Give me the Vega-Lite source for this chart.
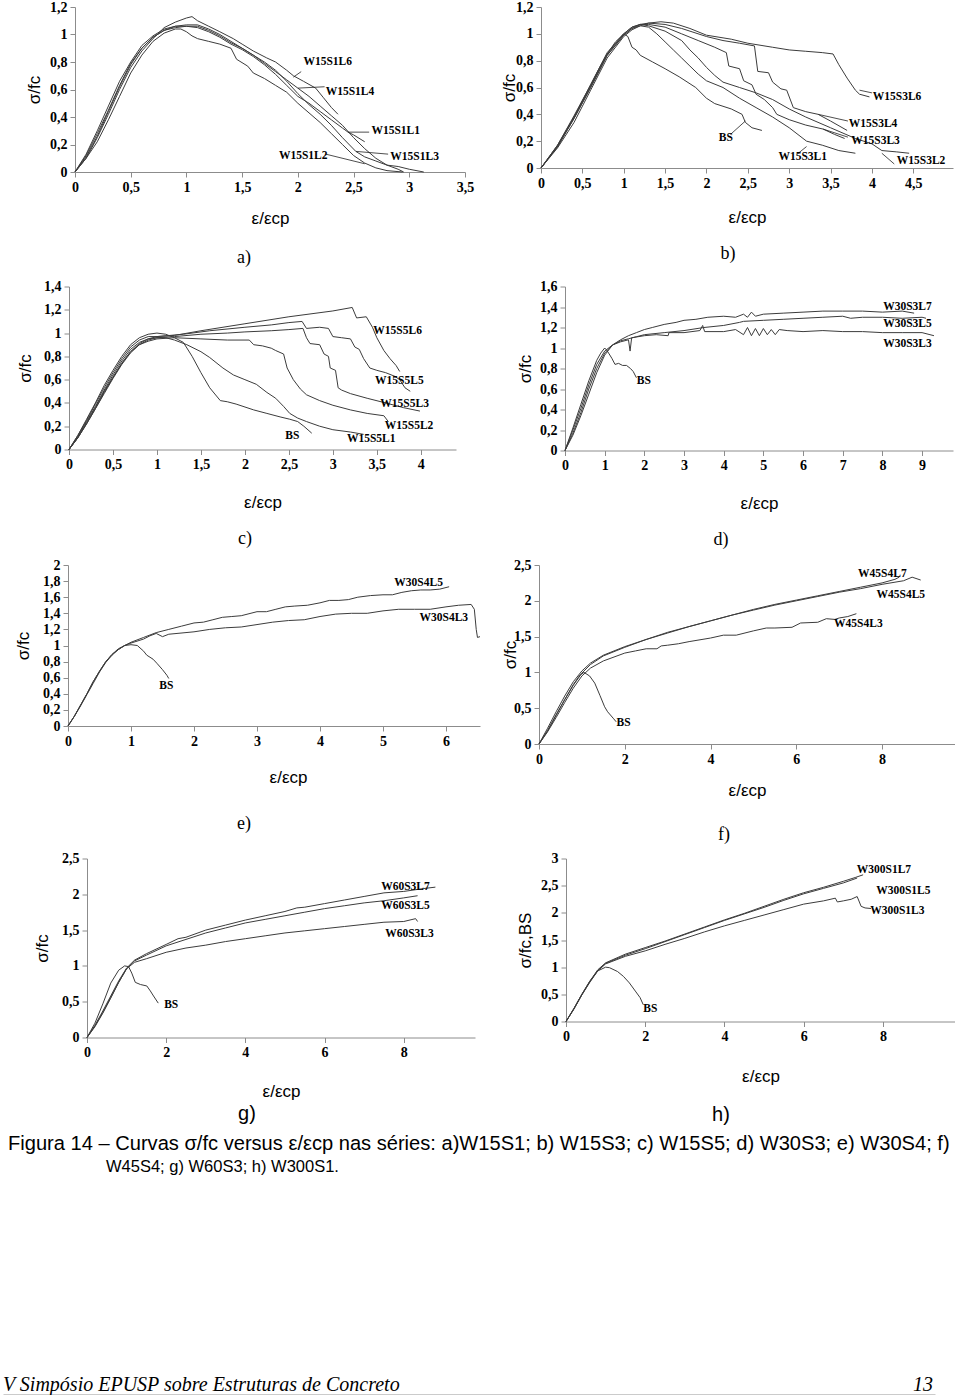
{
"$schema": "https://vega.github.io/schema/vega-lite/v6.json",
"background": "white",
"padding": {"left": 3, "top": 0, "right": 0, "bottom": 0},
"spacing": 4,
"datasets": {
"A": [
{"s":"L6","x":0,"y":0},{"s":"L6","x":0.1,"y":0.1},{"s":"L6","x":0.2,"y":0.25},{"s":"L6","x":0.3,"y":0.42},{"s":"L6","x":0.4,"y":0.6},{"s":"L6","x":0.5,"y":0.76},{"s":"L6","x":0.6,"y":0.88},{"s":"L6","x":0.7,"y":0.97},{"s":"L6","x":0.8,"y":1.05},{"s":"L6","x":0.9,"y":1.09},{"s":"L6","x":1.0,"y":1.12},{"s":"L6","x":1.05,"y":1.13},{"s":"L6","x":1.1,"y":1.1},{"s":"L6","x":1.2,"y":1.06},{"s":"L6","x":1.3,"y":1.02},{"s":"L6","x":1.42,"y":0.97},{"s":"L6","x":1.5,"y":0.93},{"s":"L6","x":1.6,"y":0.88},{"s":"L6","x":1.72,"y":0.83},{"s":"L6","x":1.8,"y":0.8},{"s":"L6","x":1.9,"y":0.74},{"s":"L6","x":1.96,"y":0.7},{"s":"L6","x":2.05,"y":0.66},{"s":"L6","x":2.16,"y":0.61},{"s":"L6","x":2.23,"y":0.54},{"s":"L6","x":2.3,"y":0.47},{"s":"L6","x":2.36,"y":0.42},
{"s":"L4","x":0,"y":0},{"s":"L4","x":0.1,"y":0.12},{"s":"L4","x":0.2,"y":0.28},{"s":"L4","x":0.3,"y":0.45},{"s":"L4","x":0.4,"y":0.63},{"s":"L4","x":0.5,"y":0.79},{"s":"L4","x":0.6,"y":0.9},{"s":"L4","x":0.7,"y":0.98},{"s":"L4","x":0.8,"y":1.03},{"s":"L4","x":0.9,"y":1.06},{"s":"L4","x":1.0,"y":1.07},{"s":"L4","x":1.1,"y":1.07},{"s":"L4","x":1.2,"y":1.04},{"s":"L4","x":1.3,"y":1.0},{"s":"L4","x":1.4,"y":0.95},{"s":"L4","x":1.5,"y":0.9},{"s":"L4","x":1.6,"y":0.85},{"s":"L4","x":1.7,"y":0.79},{"s":"L4","x":1.8,"y":0.73},{"s":"L4","x":1.9,"y":0.67},{"s":"L4","x":2.0,"y":0.61},{"s":"L4","x":2.1,"y":0.55},{"s":"L4","x":2.2,"y":0.48},{"s":"L4","x":2.3,"y":0.41},{"s":"L4","x":2.4,"y":0.34},{"s":"L4","x":2.5,"y":0.25},{"s":"L4","x":2.6,"y":0.17},{"s":"L4","x":2.7,"y":0.1},{"s":"L4","x":2.8,"y":0.05},{"s":"L4","x":2.9,"y":0.02},{"s":"L4","x":2.95,"y":0},
{"s":"L1","x":0,"y":0},{"s":"L1","x":0.1,"y":0.13},{"s":"L1","x":0.2,"y":0.3},{"s":"L1","x":0.3,"y":0.48},{"s":"L1","x":0.4,"y":0.66},{"s":"L1","x":0.5,"y":0.8},{"s":"L1","x":0.6,"y":0.92},{"s":"L1","x":0.7,"y":0.99},{"s":"L1","x":0.8,"y":1.04},{"s":"L1","x":0.9,"y":1.06},{"s":"L1","x":1.0,"y":1.06},{"s":"L1","x":1.1,"y":1.05},{"s":"L1","x":1.2,"y":1.02},{"s":"L1","x":1.3,"y":0.98},{"s":"L1","x":1.4,"y":0.93},{"s":"L1","x":1.5,"y":0.89},{"s":"L1","x":1.6,"y":0.84},{"s":"L1","x":1.7,"y":0.78},{"s":"L1","x":1.8,"y":0.71},{"s":"L1","x":1.9,"y":0.63},{"s":"L1","x":2.0,"y":0.55},{"s":"L1","x":2.1,"y":0.5},{"s":"L1","x":2.2,"y":0.44},{"s":"L1","x":2.3,"y":0.38},{"s":"L1","x":2.4,"y":0.32},{"s":"L1","x":2.45,"y":0.29},{"s":"L1","x":2.5,"y":0.27},{"s":"L1","x":2.6,"y":0.22},
{"s":"L3","x":0,"y":0},{"s":"L3","x":0.1,"y":0.11},{"s":"L3","x":0.2,"y":0.26},{"s":"L3","x":0.3,"y":0.44},{"s":"L3","x":0.4,"y":0.62},{"s":"L3","x":0.5,"y":0.78},{"s":"L3","x":0.6,"y":0.9},{"s":"L3","x":0.7,"y":0.98},{"s":"L3","x":0.8,"y":1.03},{"s":"L3","x":0.9,"y":1.05},{"s":"L3","x":1.0,"y":1.06},{"s":"L3","x":1.1,"y":1.06},{"s":"L3","x":1.2,"y":1.03},{"s":"L3","x":1.3,"y":0.99},{"s":"L3","x":1.4,"y":0.94},{"s":"L3","x":1.5,"y":0.9},{"s":"L3","x":1.6,"y":0.85},{"s":"L3","x":1.7,"y":0.8},{"s":"L3","x":1.8,"y":0.74},{"s":"L3","x":1.9,"y":0.66},{"s":"L3","x":2.0,"y":0.57},{"s":"L3","x":2.1,"y":0.49},{"s":"L3","x":2.2,"y":0.42},{"s":"L3","x":2.3,"y":0.34},{"s":"L3","x":2.4,"y":0.25},{"s":"L3","x":2.52,"y":0.15},{"s":"L3","x":2.6,"y":0.11},{"s":"L3","x":2.7,"y":0.08},{"s":"L3","x":2.8,"y":0.05},{"s":"L3","x":2.9,"y":0.04},{"s":"L3","x":3.0,"y":0.02},{"s":"L3","x":3.13,"y":0},
{"s":"L2","x":0,"y":0},{"s":"L2","x":0.1,"y":0.1},{"s":"L2","x":0.2,"y":0.22},{"s":"L2","x":0.3,"y":0.38},{"s":"L2","x":0.4,"y":0.55},{"s":"L2","x":0.5,"y":0.72},{"s":"L2","x":0.6,"y":0.85},{"s":"L2","x":0.7,"y":0.95},{"s":"L2","x":0.8,"y":1.01},{"s":"L2","x":0.9,"y":1.04},{"s":"L2","x":0.95,"y":1.04},{"s":"L2","x":1.0,"y":1.02},{"s":"L2","x":1.05,"y":0.99},{"s":"L2","x":1.1,"y":0.97},{"s":"L2","x":1.2,"y":0.95},{"s":"L2","x":1.3,"y":0.93},{"s":"L2","x":1.4,"y":0.9},{"s":"L2","x":1.45,"y":0.82},{"s":"L2","x":1.55,"y":0.77},{"s":"L2","x":1.6,"y":0.72},{"s":"L2","x":1.7,"y":0.68},{"s":"L2","x":1.8,"y":0.63},{"s":"L2","x":1.9,"y":0.58},{"s":"L2","x":2.0,"y":0.5},{"s":"L2","x":2.1,"y":0.43},{"s":"L2","x":2.2,"y":0.36},{"s":"L2","x":2.3,"y":0.28},{"s":"L2","x":2.4,"y":0.2},{"s":"L2","x":2.5,"y":0.12},{"s":"L2","x":2.6,"y":0.065},{"s":"L2","x":2.7,"y":0.03},{"s":"L2","x":2.8,"y":0.01},{"s":"L2","x":2.94,"y":0}
],
"Alab": [{"t":"W15S1L6","x":2.05,"y":0.80},{"t":"W15S1L4","x":2.25,"y":0.58},{"t":"W15S1L1","x":2.66,"y":0.30},{"t":"W15S1L3","x":2.83,"y":0.11},{"t":"W15S1L2","x":1.83,"y":0.12}],
"Aarr": [{"x":2.03,"y":0.73,"x2":1.96,"y2":0.69},{"x":2.24,"y":0.62,"x2":2.0,"y2":0.61},{"x":2.64,"y":0.29,"x2":2.45,"y2":0.29},{"x":2.81,"y":0.13,"x2":2.52,"y2":0.15},{"x":2.25,"y":0.13,"x2":2.6,"y2":0.06}],
"B": [
{"s":"BS","x":0,"y":0},{"s":"BS","x":0.2,"y":0.17},{"s":"BS","x":0.4,"y":0.38},{"s":"BS","x":0.5,"y":0.5},{"s":"BS","x":0.6,"y":0.62},{"s":"BS","x":0.7,"y":0.74},{"s":"BS","x":0.8,"y":0.85},{"s":"BS","x":0.9,"y":0.94},{"s":"BS","x":1.0,"y":1.0},{"s":"BS","x":1.05,"y":0.98},{"s":"BS","x":1.1,"y":0.9},{"s":"BS","x":1.15,"y":0.88},{"s":"BS","x":1.2,"y":0.84},{"s":"BS","x":1.35,"y":0.79},{"s":"BS","x":1.5,"y":0.74},{"s":"BS","x":1.67,"y":0.68},{"s":"BS","x":1.87,"y":0.6},{"s":"BS","x":2.0,"y":0.52},{"s":"BS","x":2.1,"y":0.48},{"s":"BS","x":2.3,"y":0.44},{"s":"BS","x":2.43,"y":0.4},{"s":"BS","x":2.47,"y":0.34},{"s":"BS","x":2.55,"y":0.3},{"s":"BS","x":2.67,"y":0.28},
{"s":"L6","x":0,"y":0},{"s":"L6","x":0.2,"y":0.15},{"s":"L6","x":0.4,"y":0.34},{"s":"L6","x":0.6,"y":0.58},{"s":"L6","x":0.8,"y":0.82},{"s":"L6","x":1.0,"y":0.98},{"s":"L6","x":1.1,"y":1.03},{"s":"L6","x":1.2,"y":1.06},{"s":"L6","x":1.3,"y":1.08},{"s":"L6","x":1.45,"y":1.09},{"s":"L6","x":1.6,"y":1.08},{"s":"L6","x":1.8,"y":1.04},{"s":"L6","x":2.0,"y":0.99},{"s":"L6","x":2.3,"y":0.96},{"s":"L6","x":2.5,"y":0.93},{"s":"L6","x":2.8,"y":0.9},{"s":"L6","x":3.0,"y":0.88},{"s":"L6","x":3.2,"y":0.87},{"s":"L6","x":3.4,"y":0.86},{"s":"L6","x":3.53,"y":0.85},{"s":"L6","x":3.6,"y":0.77},{"s":"L6","x":3.7,"y":0.67},{"s":"L6","x":3.8,"y":0.58},{"s":"L6","x":3.85,"y":0.55},{"s":"L6","x":3.97,"y":0.53},
{"s":"L4","x":0,"y":0},{"s":"L4","x":0.2,"y":0.16},{"s":"L4","x":0.4,"y":0.37},{"s":"L4","x":0.6,"y":0.6},{"s":"L4","x":0.8,"y":0.84},{"s":"L4","x":1.0,"y":0.99},{"s":"L4","x":1.1,"y":1.04},{"s":"L4","x":1.2,"y":1.07},{"s":"L4","x":1.3,"y":1.08},{"s":"L4","x":1.5,"y":1.07},{"s":"L4","x":1.7,"y":1.04},{"s":"L4","x":2.0,"y":0.98},{"s":"L4","x":2.2,"y":0.95},{"s":"L4","x":2.4,"y":0.93},{"s":"L4","x":2.58,"y":0.91},{"s":"L4","x":2.62,"y":0.72},{"s":"L4","x":2.75,"y":0.71},{"s":"L4","x":2.8,"y":0.64},{"s":"L4","x":2.9,"y":0.59},{"s":"L4","x":2.97,"y":0.58},{"s":"L4","x":3.05,"y":0.45},{"s":"L4","x":3.2,"y":0.42},{"s":"L4","x":3.35,"y":0.4},{"s":"L4","x":3.5,"y":0.35},{"s":"L4","x":3.7,"y":0.28},
{"s":"L3","x":0,"y":0},{"s":"L3","x":0.2,"y":0.17},{"s":"L3","x":0.4,"y":0.39},{"s":"L3","x":0.6,"y":0.62},{"s":"L3","x":0.8,"y":0.86},{"s":"L3","x":1.0,"y":1.0},{"s":"L3","x":1.1,"y":1.05},{"s":"L3","x":1.2,"y":1.07},{"s":"L3","x":1.3,"y":1.07},{"s":"L3","x":1.5,"y":1.05},{"s":"L3","x":1.7,"y":1.0},{"s":"L3","x":1.9,"y":0.95},{"s":"L3","x":2.1,"y":0.9},{"s":"L3","x":2.24,"y":0.86},{"s":"L3","x":2.27,"y":0.76},{"s":"L3","x":2.4,"y":0.74},{"s":"L3","x":2.45,"y":0.65},{"s":"L3","x":2.55,"y":0.62},{"s":"L3","x":2.6,"y":0.55},{"s":"L3","x":2.7,"y":0.51},{"s":"L3","x":2.8,"y":0.45},{"s":"L3","x":2.85,"y":0.4},{"s":"L3","x":3.0,"y":0.36},{"s":"L3","x":3.2,"y":0.32},{"s":"L3","x":3.41,"y":0.29},{"s":"L3","x":3.55,"y":0.25},{"s":"L3","x":3.67,"y":0.22},
{"s":"L2","x":0,"y":0},{"s":"L2","x":0.2,"y":0.16},{"s":"L2","x":0.4,"y":0.38},{"s":"L2","x":0.6,"y":0.61},{"s":"L2","x":0.8,"y":0.85},{"s":"L2","x":1.0,"y":1.0},{"s":"L2","x":1.1,"y":1.05},{"s":"L2","x":1.2,"y":1.07},{"s":"L2","x":1.3,"y":1.06},{"s":"L2","x":1.5,"y":1.02},{"s":"L2","x":1.7,"y":0.95},{"s":"L2","x":1.8,"y":0.88},{"s":"L2","x":1.9,"y":0.82},{"s":"L2","x":2.0,"y":0.75},{"s":"L2","x":2.1,"y":0.69},{"s":"L2","x":2.2,"y":0.64},{"s":"L2","x":2.4,"y":0.6},{"s":"L2","x":2.6,"y":0.56},{"s":"L2","x":2.8,"y":0.51},{"s":"L2","x":3.0,"y":0.44},{"s":"L2","x":3.2,"y":0.38},{"s":"L2","x":3.5,"y":0.3},{"s":"L2","x":3.8,"y":0.22},{"s":"L2","x":4.0,"y":0.18},{"s":"L2","x":4.12,"y":0.13},{"s":"L2","x":4.3,"y":0.12},{"s":"L2","x":4.45,"y":0.11},
{"s":"L1","x":0,"y":0},{"s":"L1","x":0.2,"y":0.16},{"s":"L1","x":0.4,"y":0.37},{"s":"L1","x":0.6,"y":0.6},{"s":"L1","x":0.8,"y":0.84},{"s":"L1","x":1.0,"y":0.99},{"s":"L1","x":1.1,"y":1.04},{"s":"L1","x":1.2,"y":1.06},{"s":"L1","x":1.3,"y":1.05},{"s":"L1","x":1.4,"y":1.0},{"s":"L1","x":1.5,"y":0.94},{"s":"L1","x":1.6,"y":0.88},{"s":"L1","x":1.7,"y":0.82},{"s":"L1","x":1.8,"y":0.76},{"s":"L1","x":1.9,"y":0.7},{"s":"L1","x":2.0,"y":0.65},{"s":"L1","x":2.2,"y":0.6},{"s":"L1","x":2.4,"y":0.52},{"s":"L1","x":2.6,"y":0.45},{"s":"L1","x":2.8,"y":0.38},{"s":"L1","x":3.0,"y":0.3},{"s":"L1","x":3.21,"y":0.2},{"s":"L1","x":3.4,"y":0.17},{"s":"L1","x":3.6,"y":0.13},{"s":"L1","x":3.8,"y":0.11}
],
"Blab": [{"t":"W15S3L6","x":4.01,"y":0.53},{"t":"W15S3L4","x":3.72,"y":0.33},{"t":"W15S3L3","x":3.75,"y":0.20},{"t":"W15S3L2","x":4.3,"y":0.05},{"t":"W15S3L1","x":2.87,"y":0.08},{"t":"BS","x":2.15,"y":0.22}],
"Barr": [{"x":4.0,"y":0.56,"x2":3.85,"y2":0.58},{"x":3.71,"y":0.35,"x2":3.35,"y2":0.40},{"x":3.71,"y":0.23,"x2":3.41,"y2":0.29},{"x":4.27,"y":0.03,"x2":4.12,"y2":0.11},{"x":3.09,"y":0.10,"x2":3.21,"y2":0.16},{"x":2.29,"y":0.25,"x2":2.47,"y2":0.35}],
"C": [
{"s":"BS","x":0,"y":0},{"s":"BS","x":0.1,"y":0.12},{"s":"BS","x":0.2,"y":0.26},{"s":"BS","x":0.3,"y":0.4},{"s":"BS","x":0.4,"y":0.55},{"s":"BS","x":0.5,"y":0.68},{"s":"BS","x":0.6,"y":0.8},{"s":"BS","x":0.7,"y":0.9},{"s":"BS","x":0.8,"y":0.96},{"s":"BS","x":0.9,"y":0.99},{"s":"BS","x":1.0,"y":1.0},{"s":"BS","x":1.1,"y":0.99},{"s":"BS","x":1.2,"y":0.96},{"s":"BS","x":1.3,"y":0.92},{"s":"BS","x":1.4,"y":0.8},{"s":"BS","x":1.5,"y":0.66},{"s":"BS","x":1.6,"y":0.53},{"s":"BS","x":1.72,"y":0.42},{"s":"BS","x":1.8,"y":0.41},{"s":"BS","x":1.9,"y":0.39},{"s":"BS","x":2.1,"y":0.34},{"s":"BS","x":2.25,"y":0.31},{"s":"BS","x":2.4,"y":0.28},{"s":"BS","x":2.51,"y":0.26},{"s":"BS","x":2.6,"y":0.24},{"s":"BS","x":2.67,"y":0.2},{"s":"BS","x":2.76,"y":0.14},
{"s":"L1","x":0,"y":0},{"s":"L1","x":0.1,"y":0.11},{"s":"L1","x":0.2,"y":0.24},{"s":"L1","x":0.3,"y":0.37},{"s":"L1","x":0.4,"y":0.51},{"s":"L1","x":0.5,"y":0.64},{"s":"L1","x":0.6,"y":0.76},{"s":"L1","x":0.7,"y":0.86},{"s":"L1","x":0.8,"y":0.92},{"s":"L1","x":0.9,"y":0.95},{"s":"L1","x":1.0,"y":0.96},{"s":"L1","x":1.1,"y":0.96},{"s":"L1","x":1.2,"y":0.94},{"s":"L1","x":1.34,"y":0.9},{"s":"L1","x":1.5,"y":0.84},{"s":"L1","x":1.6,"y":0.79},{"s":"L1","x":1.75,"y":0.7},{"s":"L1","x":1.87,"y":0.64},{"s":"L1","x":2.0,"y":0.6},{"s":"L1","x":2.13,"y":0.56},{"s":"L1","x":2.25,"y":0.49},{"s":"L1","x":2.35,"y":0.44},{"s":"L1","x":2.44,"y":0.37},{"s":"L1","x":2.51,"y":0.31},{"s":"L1","x":2.6,"y":0.27},{"s":"L1","x":2.7,"y":0.24},{"s":"L1","x":2.85,"y":0.2},{"s":"L1","x":3.0,"y":0.17},{"s":"L1","x":3.2,"y":0.15},{"s":"L1","x":3.35,"y":0.13},
{"s":"L2","x":0,"y":0},{"s":"L2","x":0.1,"y":0.1},{"s":"L2","x":0.2,"y":0.22},{"s":"L2","x":0.3,"y":0.35},{"s":"L2","x":0.4,"y":0.48},{"s":"L2","x":0.5,"y":0.61},{"s":"L2","x":0.6,"y":0.73},{"s":"L2","x":0.7,"y":0.83},{"s":"L2","x":0.8,"y":0.9},{"s":"L2","x":0.9,"y":0.93},{"s":"L2","x":1.0,"y":0.95},{"s":"L2","x":1.2,"y":0.96},{"s":"L2","x":1.5,"y":0.95},{"s":"L2","x":1.8,"y":0.94},{"s":"L2","x":2.05,"y":0.94},{"s":"L2","x":2.1,"y":0.9},{"s":"L2","x":2.2,"y":0.89},{"s":"L2","x":2.3,"y":0.87},{"s":"L2","x":2.35,"y":0.85},{"s":"L2","x":2.44,"y":0.82},{"s":"L2","x":2.48,"y":0.7},{"s":"L2","x":2.55,"y":0.6},{"s":"L2","x":2.63,"y":0.52},{"s":"L2","x":2.7,"y":0.47},{"s":"L2","x":2.85,"y":0.42},{"s":"L2","x":3.0,"y":0.38},{"s":"L2","x":3.2,"y":0.34},{"s":"L2","x":3.39,"y":0.31},{"s":"L2","x":3.58,"y":0.29},{"s":"L2","x":3.63,"y":0.24},
{"s":"L3","x":0,"y":0},{"s":"L3","x":0.1,"y":0.1},{"s":"L3","x":0.2,"y":0.23},{"s":"L3","x":0.3,"y":0.36},{"s":"L3","x":0.4,"y":0.5},{"s":"L3","x":0.5,"y":0.62},{"s":"L3","x":0.6,"y":0.74},{"s":"L3","x":0.7,"y":0.84},{"s":"L3","x":0.8,"y":0.9},{"s":"L3","x":0.9,"y":0.94},{"s":"L3","x":1.0,"y":0.96},{"s":"L3","x":1.2,"y":0.97},{"s":"L3","x":1.5,"y":0.99},{"s":"L3","x":1.8,"y":1.0},{"s":"L3","x":2.0,"y":1.01},{"s":"L3","x":2.3,"y":1.02},{"s":"L3","x":2.5,"y":1.03},{"s":"L3","x":2.66,"y":1.04},{"s":"L3","x":2.7,"y":0.96},{"s":"L3","x":2.74,"y":0.91},{"s":"L3","x":2.85,"y":0.9},{"s":"L3","x":2.9,"y":0.82},{"s":"L3","x":2.95,"y":0.8},{"s":"L3","x":2.97,"y":0.7},{"s":"L3","x":3.03,"y":0.68},{"s":"L3","x":3.06,"y":0.53},{"s":"L3","x":3.1,"y":0.51},{"s":"L3","x":3.2,"y":0.48},{"s":"L3","x":3.39,"y":0.44},{"s":"L3","x":3.6,"y":0.4},{"s":"L3","x":3.8,"y":0.36},{"s":"L3","x":3.99,"y":0.33},
{"s":"L5","x":0,"y":0},{"s":"L5","x":0.1,"y":0.1},{"s":"L5","x":0.2,"y":0.22},{"s":"L5","x":0.3,"y":0.35},{"s":"L5","x":0.4,"y":0.49},{"s":"L5","x":0.5,"y":0.62},{"s":"L5","x":0.6,"y":0.74},{"s":"L5","x":0.7,"y":0.84},{"s":"L5","x":0.8,"y":0.91},{"s":"L5","x":0.9,"y":0.95},{"s":"L5","x":1.0,"y":0.97},{"s":"L5","x":1.3,"y":0.99},{"s":"L5","x":1.6,"y":1.02},{"s":"L5","x":2.0,"y":1.05},{"s":"L5","x":2.3,"y":1.07},{"s":"L5","x":2.5,"y":1.09},{"s":"L5","x":2.65,"y":1.1},{"s":"L5","x":2.7,"y":1.04},{"s":"L5","x":2.85,"y":1.05},{"s":"L5","x":2.95,"y":1.04},{"s":"L5","x":3.0,"y":0.97},{"s":"L5","x":3.1,"y":0.96},{"s":"L5","x":3.2,"y":0.95},{"s":"L5","x":3.25,"y":0.88},{"s":"L5","x":3.3,"y":0.86},{"s":"L5","x":3.35,"y":0.78},{"s":"L5","x":3.42,"y":0.7},{"s":"L5","x":3.5,"y":0.68},{"s":"L5","x":3.6,"y":0.66},{"s":"L5","x":3.7,"y":0.63},{"s":"L5","x":3.76,"y":0.6},{"s":"L5","x":3.82,"y":0.53},{"s":"L5","x":3.88,"y":0.5},
{"s":"L6","x":0,"y":0},{"s":"L6","x":0.1,"y":0.12},{"s":"L6","x":0.2,"y":0.25},{"s":"L6","x":0.3,"y":0.39},{"s":"L6","x":0.4,"y":0.53},{"s":"L6","x":0.5,"y":0.66},{"s":"L6","x":0.6,"y":0.78},{"s":"L6","x":0.7,"y":0.88},{"s":"L6","x":0.8,"y":0.94},{"s":"L6","x":0.9,"y":0.97},{"s":"L6","x":1.0,"y":0.97},{"s":"L6","x":1.2,"y":0.98},{"s":"L6","x":1.5,"y":1.02},{"s":"L6","x":2.0,"y":1.08},{"s":"L6","x":2.5,"y":1.14},{"s":"L6","x":3.0,"y":1.19},{"s":"L6","x":3.22,"y":1.22},{"s":"L6","x":3.27,"y":1.13},{"s":"L6","x":3.38,"y":1.14},{"s":"L6","x":3.45,"y":1.05},{"s":"L6","x":3.5,"y":0.96},{"s":"L6","x":3.58,"y":0.85},{"s":"L6","x":3.65,"y":0.78},{"s":"L6","x":3.72,"y":0.72},{"s":"L6","x":3.76,"y":0.67}
],
"Clab": [{"t":"W15S5L6","x":3.46,"y":1.02},{"t":"W15S5L5","x":3.48,"y":0.59},{"t":"W15S5L3","x":3.54,"y":0.39},{"t":"W15S5L2","x":3.59,"y":0.20},{"t":"W15S5L1","x":3.16,"y":0.086},{"t":"BS","x":2.46,"y":0.114}],
"D": [
{"s":"BS","x":0,"y":0},{"s":"BS","x":0.2,"y":0.22},{"s":"BS","x":0.4,"y":0.45},{"s":"BS","x":0.6,"y":0.68},{"s":"BS","x":0.8,"y":0.88},{"s":"BS","x":0.9,"y":0.95},{"s":"BS","x":1.0,"y":1.0},{"s":"BS","x":1.05,"y":0.98},{"s":"BS","x":1.1,"y":0.95},{"s":"BS","x":1.18,"y":0.9},{"s":"BS","x":1.26,"y":0.84},{"s":"BS","x":1.35,"y":0.85},{"s":"BS","x":1.45,"y":0.83},{"s":"BS","x":1.55,"y":0.83},{"s":"BS","x":1.65,"y":0.8},{"s":"BS","x":1.72,"y":0.77},{"s":"BS","x":1.8,"y":0.71},
{"s":"L7","x":0,"y":0},{"s":"L7","x":0.2,"y":0.15},{"s":"L7","x":0.4,"y":0.34},{"s":"L7","x":0.6,"y":0.55},{"s":"L7","x":0.8,"y":0.76},{"s":"L7","x":1.0,"y":0.93},{"s":"L7","x":1.2,"y":1.03},{"s":"L7","x":1.4,"y":1.08},{"s":"L7","x":1.6,"y":1.12},{"s":"L7","x":1.8,"y":1.15},{"s":"L7","x":2.0,"y":1.18},{"s":"L7","x":2.2,"y":1.2},{"s":"L7","x":2.5,"y":1.23},{"s":"L7","x":2.8,"y":1.25},{"s":"L7","x":3.0,"y":1.27},{"s":"L7","x":3.3,"y":1.28},{"s":"L7","x":3.6,"y":1.3},{"s":"L7","x":4.0,"y":1.31},{"s":"L7","x":4.3,"y":1.3},{"s":"L7","x":4.5,"y":1.33},{"s":"L7","x":4.6,"y":1.3},{"s":"L7","x":4.7,"y":1.35},{"s":"L7","x":4.8,"y":1.31},{"s":"L7","x":5.0,"y":1.33},{"s":"L7","x":5.5,"y":1.34},{"s":"L7","x":6.0,"y":1.35},{"s":"L7","x":6.5,"y":1.36},{"s":"L7","x":7.0,"y":1.36},{"s":"L7","x":7.5,"y":1.36},{"s":"L7","x":8.0,"y":1.35},{"s":"L7","x":8.5,"y":1.36},{"s":"L7","x":8.8,"y":1.34},
{"s":"L5","x":0,"y":0},{"s":"L5","x":0.2,"y":0.17},{"s":"L5","x":0.4,"y":0.37},{"s":"L5","x":0.6,"y":0.6},{"s":"L5","x":0.8,"y":0.8},{"s":"L5","x":1.0,"y":0.95},{"s":"L5","x":1.2,"y":1.03},{"s":"L5","x":1.4,"y":1.07},{"s":"L5","x":1.6,"y":1.09},{"s":"L5","x":1.8,"y":1.11},{"s":"L5","x":2.0,"y":1.13},{"s":"L5","x":2.5,"y":1.15},{"s":"L5","x":3.0,"y":1.17},{"s":"L5","x":3.5,"y":1.2},{"s":"L5","x":4.0,"y":1.22},{"s":"L5","x":4.4,"y":1.25},{"s":"L5","x":4.5,"y":1.26},{"s":"L5","x":5.0,"y":1.27},{"s":"L5","x":5.5,"y":1.28},{"s":"L5","x":6.0,"y":1.29},{"s":"L5","x":6.5,"y":1.3},{"s":"L5","x":7.0,"y":1.31},{"s":"L5","x":7.2,"y":1.29},{"s":"L5","x":7.5,"y":1.3},{"s":"L5","x":8.0,"y":1.3},{"s":"L5","x":8.5,"y":1.29},{"s":"L5","x":9.0,"y":1.3},{"s":"L5","x":9.1,"y":1.29},
{"s":"L3","x":0,"y":0},{"s":"L3","x":0.2,"y":0.2},{"s":"L3","x":0.4,"y":0.41},{"s":"L3","x":0.6,"y":0.64},{"s":"L3","x":0.8,"y":0.84},{"s":"L3","x":1.0,"y":0.97},{"s":"L3","x":1.2,"y":1.03},{"s":"L3","x":1.4,"y":1.06},{"s":"L3","x":1.6,"y":1.08},{"s":"L3","x":1.64,"y":0.97},{"s":"L3","x":1.68,"y":1.1},{"s":"L3","x":2.0,"y":1.12},{"s":"L3","x":2.3,"y":1.13},{"s":"L3","x":2.6,"y":1.12},{"s":"L3","x":2.62,"y":1.15},{"s":"L3","x":3.0,"y":1.15},{"s":"L3","x":3.4,"y":1.17},{"s":"L3","x":3.47,"y":1.22},{"s":"L3","x":3.52,"y":1.16},{"s":"L3","x":4.0,"y":1.16},{"s":"L3","x":4.3,"y":1.18},{"s":"L3","x":4.5,"y":1.13},{"s":"L3","x":4.6,"y":1.2},{"s":"L3","x":4.7,"y":1.12},{"s":"L3","x":4.8,"y":1.19},{"s":"L3","x":4.9,"y":1.12},{"s":"L3","x":5.0,"y":1.19},{"s":"L3","x":5.1,"y":1.13},{"s":"L3","x":5.2,"y":1.18},{"s":"L3","x":5.3,"y":1.13},{"s":"L3","x":5.4,"y":1.18},{"s":"L3","x":5.6,"y":1.17},{"s":"L3","x":6.0,"y":1.16},{"s":"L3","x":6.5,"y":1.17},{"s":"L3","x":7.0,"y":1.16},{"s":"L3","x":7.5,"y":1.16},{"s":"L3","x":8.0,"y":1.15},{"s":"L3","x":8.5,"y":1.15},{"s":"L3","x":9.0,"y":1.15},{"s":"L3","x":9.2,"y":1.13},{"s":"L3","x":9.3,"y":1.12}
],
"Dlab": [{"t":"W30S3L7","x":8.02,"y":1.40},{"t":"W30S3L5","x":8.02,"y":1.23},{"t":"W30S3L3","x":8.02,"y":1.04},{"t":"BS","x":1.81,"y":0.68}],
"E": [
{"s":"BS","x":0,"y":0},{"s":"BS","x":0.1,"y":0.12},{"s":"BS","x":0.2,"y":0.26},{"s":"BS","x":0.3,"y":0.4},{"s":"BS","x":0.4,"y":0.55},{"s":"BS","x":0.5,"y":0.68},{"s":"BS","x":0.6,"y":0.8},{"s":"BS","x":0.7,"y":0.89},{"s":"BS","x":0.8,"y":0.96},{"s":"BS","x":0.9,"y":1.0},{"s":"BS","x":1.0,"y":1.01},{"s":"BS","x":1.1,"y":1.0},{"s":"BS","x":1.2,"y":0.93},{"s":"BS","x":1.25,"y":0.88},{"s":"BS","x":1.35,"y":0.83},{"s":"BS","x":1.41,"y":0.78},{"s":"BS","x":1.5,"y":0.7},{"s":"BS","x":1.57,"y":0.63},{"s":"BS","x":1.6,"y":0.59},
{"s":"L5","x":0,"y":0},{"s":"L5","x":0.1,"y":0.12},{"s":"L5","x":0.2,"y":0.26},{"s":"L5","x":0.3,"y":0.4},{"s":"L5","x":0.4,"y":0.55},{"s":"L5","x":0.5,"y":0.68},{"s":"L5","x":0.6,"y":0.8},{"s":"L5","x":0.7,"y":0.89},{"s":"L5","x":0.8,"y":0.95},{"s":"L5","x":0.9,"y":1.0},{"s":"L5","x":1.0,"y":1.04},{"s":"L5","x":1.2,"y":1.1},{"s":"L5","x":1.4,"y":1.16},{"s":"L5","x":1.6,"y":1.2},{"s":"L5","x":1.8,"y":1.24},{"s":"L5","x":2.0,"y":1.28},{"s":"L5","x":2.15,"y":1.29},{"s":"L5","x":2.3,"y":1.32},{"s":"L5","x":2.45,"y":1.35},{"s":"L5","x":2.6,"y":1.36},{"s":"L5","x":2.75,"y":1.37},{"s":"L5","x":3.0,"y":1.42},{"s":"L5","x":3.15,"y":1.42},{"s":"L5","x":3.3,"y":1.45},{"s":"L5","x":3.45,"y":1.48},{"s":"L5","x":3.6,"y":1.49},{"s":"L5","x":3.8,"y":1.5},{"s":"L5","x":4.0,"y":1.53},{"s":"L5","x":4.15,"y":1.56},{"s":"L5","x":4.3,"y":1.56},{"s":"L5","x":4.45,"y":1.57},{"s":"L5","x":4.6,"y":1.6},{"s":"L5","x":4.8,"y":1.62},{"s":"L5","x":5.0,"y":1.63},{"s":"L5","x":5.15,"y":1.63},{"s":"L5","x":5.3,"y":1.66},{"s":"L5","x":5.45,"y":1.68},{"s":"L5","x":5.6,"y":1.69},{"s":"L5","x":5.75,"y":1.69},{"s":"L5","x":5.9,"y":1.7},{"s":"L5","x":6.05,"y":1.73},
{"s":"L3","x":0,"y":0},{"s":"L3","x":0.1,"y":0.12},{"s":"L3","x":0.2,"y":0.25},{"s":"L3","x":0.3,"y":0.39},{"s":"L3","x":0.4,"y":0.53},{"s":"L3","x":0.5,"y":0.67},{"s":"L3","x":0.6,"y":0.79},{"s":"L3","x":0.7,"y":0.88},{"s":"L3","x":0.8,"y":0.95},{"s":"L3","x":0.9,"y":1.0},{"s":"L3","x":1.0,"y":1.03},{"s":"L3","x":1.2,"y":1.08},{"s":"L3","x":1.3,"y":1.12},{"s":"L3","x":1.4,"y":1.15},{"s":"L3","x":1.5,"y":1.11},{"s":"L3","x":1.6,"y":1.14},{"s":"L3","x":2.0,"y":1.17},{"s":"L3","x":2.25,"y":1.2},{"s":"L3","x":2.5,"y":1.22},{"s":"L3","x":2.75,"y":1.23},{"s":"L3","x":3.0,"y":1.26},{"s":"L3","x":3.25,"y":1.29},{"s":"L3","x":3.5,"y":1.31},{"s":"L3","x":3.75,"y":1.32},{"s":"L3","x":4.0,"y":1.36},{"s":"L3","x":4.25,"y":1.39},{"s":"L3","x":4.5,"y":1.4},{"s":"L3","x":4.75,"y":1.4},{"s":"L3","x":5.0,"y":1.43},{"s":"L3","x":5.25,"y":1.45},{"s":"L3","x":5.5,"y":1.45},{"s":"L3","x":5.75,"y":1.45},{"s":"L3","x":6.0,"y":1.48},{"s":"L3","x":6.2,"y":1.5},{"s":"L3","x":6.4,"y":1.51},{"s":"L3","x":6.45,"y":1.45},{"s":"L3","x":6.48,"y":1.2},{"s":"L3","x":6.5,"y":1.1},{"s":"L3","x":6.54,"y":1.11}
],
"Elab": [{"t":"W30S4L5","x":5.18,"y":1.78},{"t":"W30S4L3","x":5.58,"y":1.34},{"t":"BS","x":1.45,"y":0.50}],
"F": [
{"s":"BS","x":0,"y":0},{"s":"BS","x":0.2,"y":0.18},{"s":"BS","x":0.4,"y":0.4},{"s":"BS","x":0.6,"y":0.62},{"s":"BS","x":0.8,"y":0.83},{"s":"BS","x":0.95,"y":0.96},{"s":"BS","x":1.05,"y":1.0},{"s":"BS","x":1.18,"y":0.95},{"s":"BS","x":1.3,"y":0.85},{"s":"BS","x":1.42,"y":0.68},{"s":"BS","x":1.53,"y":0.52},{"s":"BS","x":1.6,"y":0.45},{"s":"BS","x":1.73,"y":0.36},{"s":"BS","x":1.8,"y":0.31},
{"s":"L7","x":0,"y":0},{"s":"L7","x":0.2,"y":0.22},{"s":"L7","x":0.4,"y":0.45},{"s":"L7","x":0.6,"y":0.67},{"s":"L7","x":0.8,"y":0.87},{"s":"L7","x":1.0,"y":1.02},{"s":"L7","x":1.2,"y":1.13},{"s":"L7","x":1.5,"y":1.24},{"s":"L7","x":2.0,"y":1.36},{"s":"L7","x":2.5,"y":1.46},{"s":"L7","x":3.0,"y":1.56},{"s":"L7","x":3.5,"y":1.64},{"s":"L7","x":4.0,"y":1.72},{"s":"L7","x":4.5,"y":1.8},{"s":"L7","x":5.0,"y":1.88},{"s":"L7","x":5.5,"y":1.95},{"s":"L7","x":6.0,"y":2.01},{"s":"L7","x":6.5,"y":2.07},{"s":"L7","x":7.0,"y":2.13},{"s":"L7","x":7.5,"y":2.19},{"s":"L7","x":8.0,"y":2.25},{"s":"L7","x":8.3,"y":2.3},{"s":"L7","x":8.4,"y":2.33},
{"s":"L5","x":0,"y":0},{"s":"L5","x":0.2,"y":0.19},{"s":"L5","x":0.4,"y":0.41},{"s":"L5","x":0.6,"y":0.62},{"s":"L5","x":0.8,"y":0.82},{"s":"L5","x":1.0,"y":0.99},{"s":"L5","x":1.2,"y":1.11},{"s":"L5","x":1.5,"y":1.23},{"s":"L5","x":2.0,"y":1.35},{"s":"L5","x":2.5,"y":1.46},{"s":"L5","x":3.0,"y":1.55},{"s":"L5","x":3.5,"y":1.64},{"s":"L5","x":4.0,"y":1.72},{"s":"L5","x":4.5,"y":1.8},{"s":"L5","x":5.0,"y":1.87},{"s":"L5","x":5.5,"y":1.94},{"s":"L5","x":6.0,"y":2.0},{"s":"L5","x":6.5,"y":2.06},{"s":"L5","x":7.0,"y":2.12},{"s":"L5","x":7.5,"y":2.17},{"s":"L5","x":8.0,"y":2.23},{"s":"L5","x":8.5,"y":2.28},{"s":"L5","x":8.7,"y":2.33},{"s":"L5","x":8.9,"y":2.29},
{"s":"L3","x":0,"y":0},{"s":"L3","x":0.2,"y":0.17},{"s":"L3","x":0.4,"y":0.37},{"s":"L3","x":0.6,"y":0.58},{"s":"L3","x":0.8,"y":0.78},{"s":"L3","x":1.0,"y":0.95},{"s":"L3","x":1.2,"y":1.06},{"s":"L3","x":1.5,"y":1.16},{"s":"L3","x":2.0,"y":1.27},{"s":"L3","x":2.25,"y":1.3},{"s":"L3","x":2.5,"y":1.33},{"s":"L3","x":2.75,"y":1.33},{"s":"L3","x":2.85,"y":1.37},{"s":"L3","x":3.0,"y":1.38},{"s":"L3","x":3.25,"y":1.4},{"s":"L3","x":3.5,"y":1.43},{"s":"L3","x":4.0,"y":1.48},{"s":"L3","x":4.3,"y":1.52},{"s":"L3","x":4.6,"y":1.52},{"s":"L3","x":5.0,"y":1.58},{"s":"L3","x":5.3,"y":1.62},{"s":"L3","x":5.5,"y":1.62},{"s":"L3","x":5.9,"y":1.63},{"s":"L3","x":6.1,"y":1.69},{"s":"L3","x":6.5,"y":1.7},{"s":"L3","x":6.7,"y":1.75},{"s":"L3","x":6.9,"y":1.74},{"s":"L3","x":7.0,"y":1.76},{"s":"L3","x":7.2,"y":1.78},{"s":"L3","x":7.4,"y":1.82}
],
"Flab": [{"t":"W45S4L7","x":7.44,"y":2.37},{"t":"W45S4L5","x":7.87,"y":2.08},{"t":"W45S4L3","x":6.88,"y":1.67},{"t":"BS","x":1.81,"y":0.30}],
"G": [
{"s":"BS","x":0,"y":0},{"s":"BS","x":0.2,"y":0.2},{"s":"BS","x":0.4,"y":0.47},{"s":"BS","x":0.6,"y":0.76},{"s":"BS","x":0.8,"y":0.94},{"s":"BS","x":0.95,"y":1.0},{"s":"BS","x":1.05,"y":0.99},{"s":"BS","x":1.13,"y":0.9},{"s":"BS","x":1.22,"y":0.77},{"s":"BS","x":1.35,"y":0.74},{"s":"BS","x":1.51,"y":0.72},{"s":"BS","x":1.6,"y":0.65},{"s":"BS","x":1.68,"y":0.58},{"s":"BS","x":1.8,"y":0.48},
{"s":"L7","x":0,"y":0},{"s":"L7","x":0.2,"y":0.17},{"s":"L7","x":0.4,"y":0.37},{"s":"L7","x":0.6,"y":0.58},{"s":"L7","x":0.8,"y":0.79},{"s":"L7","x":1.0,"y":0.97},{"s":"L7","x":1.2,"y":1.08},{"s":"L7","x":1.5,"y":1.17},{"s":"L7","x":2.0,"y":1.3},{"s":"L7","x":2.3,"y":1.38},{"s":"L7","x":2.5,"y":1.4},{"s":"L7","x":3.0,"y":1.5},{"s":"L7","x":3.5,"y":1.57},{"s":"L7","x":4.0,"y":1.64},{"s":"L7","x":4.5,"y":1.7},{"s":"L7","x":5.0,"y":1.76},{"s":"L7","x":5.3,"y":1.81},{"s":"L7","x":5.5,"y":1.82},{"s":"L7","x":6.0,"y":1.87},{"s":"L7","x":6.5,"y":1.92},{"s":"L7","x":7.0,"y":1.97},{"s":"L7","x":7.5,"y":2.02},{"s":"L7","x":8.0,"y":2.04},{"s":"L7","x":8.5,"y":2.08},{"s":"L7","x":8.8,"y":2.1},
{"s":"L5","x":0,"y":0},{"s":"L5","x":0.2,"y":0.16},{"s":"L5","x":0.4,"y":0.35},{"s":"L5","x":0.6,"y":0.56},{"s":"L5","x":0.8,"y":0.77},{"s":"L5","x":1.0,"y":0.96},{"s":"L5","x":1.2,"y":1.07},{"s":"L5","x":1.5,"y":1.15},{"s":"L5","x":2.0,"y":1.28},{"s":"L5","x":2.5,"y":1.37},{"s":"L5","x":3.0,"y":1.46},{"s":"L5","x":3.5,"y":1.53},{"s":"L5","x":4.0,"y":1.6},{"s":"L5","x":4.5,"y":1.65},{"s":"L5","x":5.0,"y":1.7},{"s":"L5","x":5.5,"y":1.75},{"s":"L5","x":6.0,"y":1.8},{"s":"L5","x":6.5,"y":1.84},{"s":"L5","x":7.0,"y":1.88},{"s":"L5","x":7.5,"y":1.91},{"s":"L5","x":8.0,"y":1.95},{"s":"L5","x":8.35,"y":1.98},
{"s":"L3","x":0,"y":0},{"s":"L3","x":0.2,"y":0.15},{"s":"L3","x":0.4,"y":0.34},{"s":"L3","x":0.6,"y":0.55},{"s":"L3","x":0.8,"y":0.77},{"s":"L3","x":1.0,"y":0.96},{"s":"L3","x":1.2,"y":1.05},{"s":"L3","x":1.5,"y":1.1},{"s":"L3","x":2.0,"y":1.19},{"s":"L3","x":2.5,"y":1.25},{"s":"L3","x":3.0,"y":1.29},{"s":"L3","x":3.5,"y":1.34},{"s":"L3","x":4.0,"y":1.38},{"s":"L3","x":4.5,"y":1.42},{"s":"L3","x":5.0,"y":1.46},{"s":"L3","x":5.5,"y":1.49},{"s":"L3","x":6.0,"y":1.52},{"s":"L3","x":6.5,"y":1.55},{"s":"L3","x":7.0,"y":1.58},{"s":"L3","x":7.5,"y":1.61},{"s":"L3","x":8.0,"y":1.62},{"s":"L3","x":8.3,"y":1.66},{"s":"L3","x":8.35,"y":1.62}
],
"Glab": [{"t":"W60S3L7","x":7.43,"y":2.10},{"t":"W60S3L5","x":7.43,"y":1.84},{"t":"W60S3L3","x":7.53,"y":1.45},{"t":"BS","x":1.95,"y":0.46}],
"H": [
{"s":"BS","x":0,"y":0},{"s":"BS","x":0.2,"y":0.24},{"s":"BS","x":0.4,"y":0.5},{"s":"BS","x":0.6,"y":0.74},{"s":"BS","x":0.8,"y":0.93},{"s":"BS","x":1.0,"y":1.0},{"s":"BS","x":1.1,"y":0.99},{"s":"BS","x":1.3,"y":0.92},{"s":"BS","x":1.45,"y":0.83},{"s":"BS","x":1.6,"y":0.71},{"s":"BS","x":1.75,"y":0.56},{"s":"BS","x":1.87,"y":0.44},{"s":"BS","x":1.95,"y":0.31},
{"s":"L7","x":0,"y":0},{"s":"L7","x":0.2,"y":0.24},{"s":"L7","x":0.4,"y":0.5},{"s":"L7","x":0.6,"y":0.74},{"s":"L7","x":0.8,"y":0.95},{"s":"L7","x":1.0,"y":1.08},{"s":"L7","x":1.5,"y":1.24},{"s":"L7","x":2.0,"y":1.36},{"s":"L7","x":2.5,"y":1.48},{"s":"L7","x":3.0,"y":1.61},{"s":"L7","x":3.5,"y":1.74},{"s":"L7","x":4.0,"y":1.87},{"s":"L7","x":4.5,"y":1.99},{"s":"L7","x":5.0,"y":2.12},{"s":"L7","x":5.5,"y":2.25},{"s":"L7","x":6.0,"y":2.37},{"s":"L7","x":6.5,"y":2.47},{"s":"L7","x":7.0,"y":2.58},{"s":"L7","x":7.3,"y":2.65},{"s":"L7","x":7.5,"y":2.7},
{"s":"L5","x":0,"y":0},{"s":"L5","x":0.2,"y":0.23},{"s":"L5","x":0.4,"y":0.49},{"s":"L5","x":0.6,"y":0.73},{"s":"L5","x":0.8,"y":0.94},{"s":"L5","x":1.0,"y":1.07},{"s":"L5","x":1.5,"y":1.22},{"s":"L5","x":2.0,"y":1.34},{"s":"L5","x":2.5,"y":1.47},{"s":"L5","x":3.0,"y":1.6},{"s":"L5","x":3.5,"y":1.73},{"s":"L5","x":4.0,"y":1.86},{"s":"L5","x":4.5,"y":1.98},{"s":"L5","x":5.0,"y":2.1},{"s":"L5","x":5.5,"y":2.23},{"s":"L5","x":6.0,"y":2.35},{"s":"L5","x":6.5,"y":2.45},{"s":"L5","x":7.0,"y":2.55},{"s":"L5","x":7.35,"y":2.64},
{"s":"L3","x":0,"y":0},{"s":"L3","x":0.2,"y":0.23},{"s":"L3","x":0.4,"y":0.49},{"s":"L3","x":0.6,"y":0.72},{"s":"L3","x":0.8,"y":0.93},{"s":"L3","x":1.0,"y":1.06},{"s":"L3","x":1.5,"y":1.2},{"s":"L3","x":2.0,"y":1.3},{"s":"L3","x":2.5,"y":1.42},{"s":"L3","x":3.0,"y":1.53},{"s":"L3","x":3.5,"y":1.65},{"s":"L3","x":4.0,"y":1.76},{"s":"L3","x":4.5,"y":1.86},{"s":"L3","x":5.0,"y":1.96},{"s":"L3","x":5.5,"y":2.06},{"s":"L3","x":6.0,"y":2.16},{"s":"L3","x":6.5,"y":2.22},{"s":"L3","x":6.8,"y":2.27},{"s":"L3","x":6.85,"y":2.2},{"s":"L3","x":7.0,"y":2.22},{"s":"L3","x":7.2,"y":2.25},{"s":"L3","x":7.35,"y":2.3},{"s":"L3","x":7.45,"y":2.12},{"s":"L3","x":7.55,"y":2.09},{"s":"L3","x":7.7,"y":2.08}
],
"Hlab": [{"t":"W300S1L7","x":7.34,"y":2.78},{"t":"W300S1L5","x":7.83,"y":2.40},{"t":"W300S1L3","x":7.68,"y":2.03},{"t":"BS","x":1.95,"y":0.23}],
"Foot": [{"t":"V Simpósio EPUSP sobre Estruturas de Concreto"},{"t":"13"}]
},
"vconcat": [
{"columns": 2, "align": "each", "bounds": "flush", "spacing": {"row": 114.5, "column": 0},
 "title": {"text": "Figura 14 – Curvas σ/fc versus ε/εcp nas séries: a)W15S1; b) W15S3; c) W15S5; d) W30S3; e) W30S4; f)", "orient": "bottom", "anchor": "start", "dx": 5, "offset": 9, "font": "Liberation Sans", "fontSize": 20.1, "fontWeight": "normal", "color": "#000"},
 "concat": [
{"width":477,"height":165,
 "title":{"text":"a)","orient":"bottom","frame":"group","dx":2.5,"offset":23,"font":"Liberation Serif","fontSize":18,"fontWeight":"normal"},
 "encoding":{
  "x":{"field":"x","type":"quantitative","scale":{"domain":[0,3.5],"range":[72,462],"nice":false},"axis":{"values":[0,0.5,1,1.5,2,2.5,3,3.5],"title":"ε/εcp","titlePadding":16,"labelExpr":"replace(format(datum.value,'~g'),'.',',')"}},
  "y":{"field":"y","type":"quantitative","scale":{"domain":[0,1.2],"nice":false},"axis":{"offset":-72,"values":[0,0.2,0.4,0.6,0.8,1,1.2],"title":"σ/fc","titlePadding":6,"labelExpr":"replace(format(datum.value,'~g'),'.',',')"}}},
 "layer":[
  {"data":{"name":"A"},"mark":{"type":"line","stroke":"#3c3c3c","strokeWidth":1},"encoding":{"detail":{"field":"s"}}},
  {"data":{"name":"Aarr"},"mark":{"type":"rule","stroke":"#222","strokeWidth":0.8},"encoding":{"x2":{"field":"x2"},"y2":{"field":"y2"}}},
  {"data":{"name":"Alab"},"mark":{"type":"text","align":"left","baseline":"middle","font":"Liberation Serif","fontWeight":"bold","fontSize":11.5,"color":"#000"},"encoding":{"text":{"field":"t"}}}
 ]},
{"width":475,"height":161,
 "title":{"text":"b)","orient":"bottom","frame":"group","dx":10.5,"offset":20,"font":"Liberation Serif","fontSize":18,"fontWeight":"normal"},
 "encoding":{
  "x":{"field":"x","type":"quantitative","scale":{"domain":[0,4.98],"range":[61,473],"nice":false},"axis":{"values":[0,0.5,1,1.5,2,2.5,3,3.5,4,4.5],"title":"ε/εcp","titlePadding":19,"labelExpr":"replace(format(datum.value,'~g'),'.',',')"}},
  "y":{"field":"y","type":"quantitative","scale":{"domain":[0,1.2],"nice":false},"axis":{"offset":-61,"values":[0,0.2,0.4,0.6,0.8,1,1.2],"title":"σ/fc","titlePadding":-3,"labelExpr":"replace(format(datum.value,'~g'),'.',',')"}}},
 "layer":[
  {"data":{"name":"B"},"mark":{"type":"line","stroke":"#3c3c3c","strokeWidth":1},"encoding":{"detail":{"field":"s"}}},
  {"data":{"name":"Barr"},"mark":{"type":"rule","stroke":"#222","strokeWidth":0.8},"encoding":{"x2":{"field":"x2"},"y2":{"field":"y2"}}},
  {"data":{"name":"Blab"},"mark":{"type":"text","align":"left","baseline":"middle","font":"Liberation Serif","fontWeight":"bold","fontSize":11.5,"color":"#000"},"encoding":{"text":{"field":"t"}}}
 ]},
{"width":477,"height":163,
 "title":{"text":"c)","orient":"bottom","frame":"group","dx":3.5,"offset":19,"font":"Liberation Serif","fontSize":18,"fontWeight":"normal"},
 "encoding":{
  "x":{"field":"x","type":"quantitative","scale":{"domain":[0,4.4],"range":[66,453],"nice":false},"axis":{"values":[0,0.5,1,1.5,2,2.5,3,3.5,4],"title":"ε/εcp","titlePadding":23,"labelExpr":"replace(format(datum.value,'~g'),'.',',')"}},
  "y":{"field":"y","type":"quantitative","scale":{"domain":[0,1.4],"nice":false},"axis":{"offset":-66,"values":[0,0.2,0.4,0.6,0.8,1,1.2,1.4],"title":"σ/fc","titlePadding":9,"labelExpr":"replace(format(datum.value,'~g'),'.',',')"}}},
 "layer":[
  {"data":{"name":"C"},"mark":{"type":"line","stroke":"#3c3c3c","strokeWidth":1},"encoding":{"detail":{"field":"s"}}},
  {"data":{"name":"Clab"},"mark":{"type":"text","align":"left","baseline":"middle","font":"Liberation Serif","fontWeight":"bold","fontSize":11.5,"color":"#000"},"encoding":{"text":{"field":"t"}}}
 ]},
{"width":475,"height":164,
 "title":{"text":"d)","orient":"bottom","frame":"group","dx":3.5,"offset":19,"font":"Liberation Serif","fontSize":18,"fontWeight":"normal"},
 "encoding":{
  "x":{"field":"x","type":"quantitative","scale":{"domain":[0,9.78],"range":[85,473],"nice":false},"axis":{"values":[0,1,2,3,4,5,6,7,8,9],"title":"ε/εcp","titlePadding":23,"labelExpr":"replace(format(datum.value,'~g'),'.',',')"}},
  "y":{"field":"y","type":"quantitative","scale":{"domain":[0,1.6],"nice":false},"axis":{"offset":-85,"values":[0,0.2,0.4,0.6,0.8,1,1.2,1.4,1.6],"title":"σ/fc","titlePadding":5,"labelExpr":"replace(format(datum.value,'~g'),'.',',')"}}},
 "layer":[
  {"data":{"name":"D"},"mark":{"type":"line","stroke":"#3c3c3c","strokeWidth":1},"encoding":{"detail":{"field":"s"}}},
  {"data":{"name":"Dlab"},"mark":{"type":"text","align":"left","baseline":"middle","font":"Liberation Serif","fontWeight":"bold","fontSize":11.5,"color":"#000"},"encoding":{"text":{"field":"t"}}}
 ]},
{"width":477,"height":161,
 "title":{"text":"e)","orient":"bottom","frame":"group","dx":2.5,"offset":30,"font":"Liberation Serif","fontSize":18,"fontWeight":"normal"},
 "encoding":{
  "x":{"field":"x","type":"quantitative","scale":{"domain":[0,6.54],"range":[65,477],"nice":false},"axis":{"values":[0,1,2,3,4,5,6],"title":"ε/εcp","titlePadding":21,"titleX":285,"labelExpr":"replace(format(datum.value,'~g'),'.',',')"}},
  "y":{"field":"y","type":"quantitative","scale":{"domain":[0,2],"nice":false},"axis":{"offset":-65,"values":[0,0.2,0.4,0.6,0.8,1,1.2,1.4,1.6,1.8,2],"title":"σ/fc","titlePadding":10,"labelExpr":"replace(format(datum.value,'~g'),'.',',')"}}},
 "layer":[
  {"data":{"name":"E"},"mark":{"type":"line","stroke":"#3c3c3c","strokeWidth":1},"encoding":{"detail":{"field":"s"}}},
  {"data":{"name":"Elab"},"mark":{"type":"text","align":"left","baseline":"middle","font":"Liberation Serif","fontWeight":"bold","fontSize":11.5,"color":"#000"},"encoding":{"text":{"field":"t"}}}
 ]},
{"width":475,"height":179,
 "title":{"text":"f)","orient":"bottom","frame":"group","dx":6.5,"offset":28,"font":"Liberation Serif","fontSize":18,"fontWeight":"normal"},
 "encoding":{
  "x":{"field":"x","type":"quantitative","scale":{"domain":[0,9.7],"range":[59,475],"nice":false},"axis":{"values":[0,2,4,6,8],"title":"ε/εcp","titlePadding":16,"labelExpr":"replace(format(datum.value,'~g'),'.',',')"}},
  "y":{"field":"y","type":"quantitative","scale":{"domain":[0,2.5],"nice":false},"axis":{"offset":-59,"values":[0,0.5,1,1.5,2,2.5],"title":"σ/fc","titlePadding":-6,"labelExpr":"replace(format(datum.value,'~g'),'.',',')"}}},
 "layer":[
  {"data":{"name":"F"},"mark":{"type":"line","stroke":"#3c3c3c","strokeWidth":1},"encoding":{"detail":{"field":"s"}}},
  {"data":{"name":"Flab"},"mark":{"type":"text","align":"left","baseline":"middle","font":"Liberation Serif","fontWeight":"bold","fontSize":11.5,"color":"#000"},"encoding":{"text":{"field":"t"}}}
 ]},
{"width":477,"height":179,
 "title":{"text":"g)","orient":"bottom","frame":"group","dx":5.5,"offset":4,"font":"Liberation Sans","fontSize":20,"fontWeight":"normal"},
 "encoding":{
  "x":{"field":"x","type":"quantitative","scale":{"domain":[0,9.8],"range":[84,472],"nice":false},"axis":{"values":[0,2,4,6,8],"title":"ε/εcp","titlePadding":24,"labelExpr":"replace(format(datum.value,'~g'),'.',',')"}},
  "y":{"field":"y","type":"quantitative","scale":{"domain":[0,2.5],"nice":false},"axis":{"offset":-84,"values":[0,0.5,1,1.5,2,2.5],"title":"σ/fc","titlePadding":10,"labelExpr":"replace(format(datum.value,'~g'),'.',',')"}}},
 "layer":[
  {"data":{"name":"G"},"mark":{"type":"line","stroke":"#3c3c3c","strokeWidth":1},"encoding":{"detail":{"field":"s"}}},
  {"data":{"name":"Glab"},"mark":{"type":"text","align":"left","baseline":"middle","font":"Liberation Serif","fontWeight":"bold","fontSize":11.5,"color":"#000"},"encoding":{"text":{"field":"t"}}}
 ]},
{"width":475,"height":163,
 "title":{"text":"h)","orient":"bottom","frame":"group","dx":3.5,"offset":20,"font":"Liberation Sans","fontSize":20,"fontWeight":"normal"},
 "encoding":{
  "x":{"field":"x","type":"quantitative","scale":{"domain":[0,9.82],"range":[86,475],"nice":false},"axis":{"values":[0,2,4,6,8],"title":"ε/εcp","titlePadding":25,"labelExpr":"replace(format(datum.value,'~g'),'.',',')"}},
  "y":{"field":"y","type":"quantitative","scale":{"domain":[0,3],"nice":false},"axis":{"offset":-86,"values":[0,0.5,1,1.5,2,2.5,3],"title":"σ/fc,BS","titlePadding":6,"labelExpr":"replace(format(datum.value,'~g'),'.',',')"}}},
 "layer":[
  {"data":{"name":"H"},"mark":{"type":"line","stroke":"#3c3c3c","strokeWidth":1},"encoding":{"detail":{"field":"s"}}},
  {"data":{"name":"Hlab"},"mark":{"type":"text","align":"left","baseline":"middle","font":"Liberation Serif","fontWeight":"bold","fontSize":11.5,"color":"#000"},"encoding":{"text":{"field":"t"}}}
 ]}
 ]},
{"width":932,"height":218,
 "data":{"name":"Foot"},
 "title":{"text":"W45S4; g) W60S3; h) W300S1.","orient":"top","anchor":"start","frame":"group","dx":103,"offset":2,"font":"Liberation Sans","fontSize":16.5,"fontWeight":"normal","color":"#000"},
 "encoding":{
  "x":{"field":"t","type":"nominal","scale":{"type":"point","padding":0,"domain":["V Simpósio EPUSP sobre Estruturas de Concreto","13"]},"axis":{"labels":false,"ticks":false,"title":null,"domain":true,"domainColor":"#333","domainWidth":1.5}},
  "y":{"datum":0,"type":"quantitative","scale":{"domain":[0,1]},"axis":null},
  "text":{"field":"t"}},
 "layer":[
  {"transform":[{"filter":"datum.t != '13'"}],"mark":{"type":"text","align":"left","baseline":"alphabetic","dy":-4,"font":"Liberation Serif","fontStyle":"italic","fontSize":20,"color":"#000"}},
  {"transform":[{"filter":"datum.t == '13'"}],"mark":{"type":"text","align":"right","baseline":"alphabetic","dy":-4,"dx":-2,"font":"Liberation Serif","fontStyle":"italic","fontSize":20,"color":"#000"}}
 ]}
],
"config":{
 "view":{"stroke":null},
 "axis":{"grid":false,"domainColor":"#8c8c8c","tickColor":"#8c8c8c","tickSize":5,"labelPadding":3,"labelFont":"Liberation Serif","labelFontWeight":"bold","labelFontSize":14,"labelColor":"#000","labelOverlap":false,"labelFlush":false,"labelBound":false,"titleFont":"Liberation Sans","titleFontWeight":"normal","titleFontSize":17,"titleColor":"#000"}
}
}
